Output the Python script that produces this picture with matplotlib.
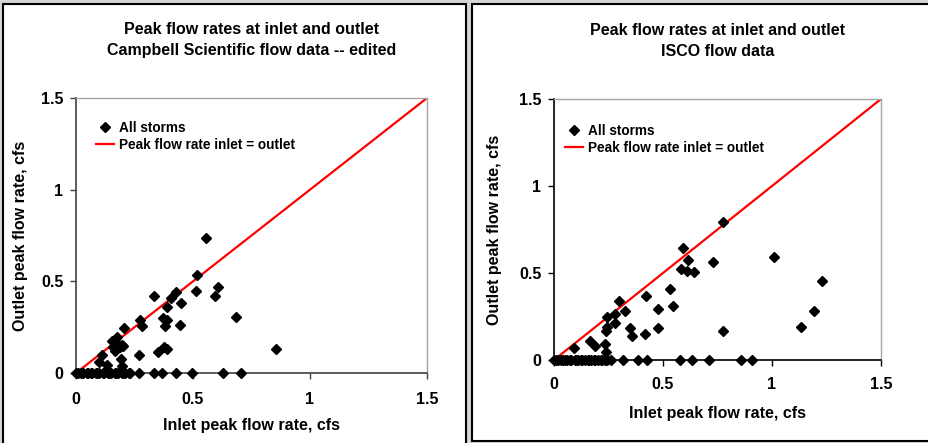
import matplotlib
matplotlib.use('Agg')
import matplotlib.pyplot as plt
from matplotlib.patches import Rectangle

plt.rcParams['font.family'] = ['Liberation Sans', 'DejaVu Sans']
plt.rcParams['font.weight'] = 'bold'

W, H = 929, 443

# Campbell Scientific (edited) peak flows, cfs
cs_inlet = [0.556, 0.517, 0.511, 0.607, 0.595, 0.685, 0.855, 0.335, 0.426, 0.405,
            0.447, 0.389, 0.39, 0.382, 0.444, 0.275, 0.281, 0.204, 0.377, 0.387,
            0.349, 0.268, 0.175, 0.152, 0.18, 0.195, 0.2, 0.19, 0.16, 0.165,
            0.11, 0.10, 0.131, 0.192, 0.198, 0.37,
            0.0, 0.01, 0.02, 0.03, 0.045, 0.05, 0.065, 0.07, 0.085, 0.09, 0.10,
            0.115, 0.12, 0.135, 0.14, 0.15, 0.165, 0.17, 0.18, 0.195, 0.20,
            0.21, 0.225, 0.23, 0.27, 0.335, 0.369, 0.429, 0.497, 0.63, 0.704]
cs_outlet = [0.735, 0.535, 0.447, 0.469, 0.42, 0.304, 0.133, 0.42, 0.44, 0.41,
             0.38, 0.36, 0.29, 0.256, 0.26, 0.287, 0.256, 0.247, 0.144, 0.133,
             0.115, 0.10, 0.198, 0.173, 0.16, 0.155, 0.15, 0.14, 0.14, 0.12,
             0.10, 0.06, 0.045, 0.078, 0.036, 0.30,
             0, 0, 0, 0, 0, 0, 0, 0, 0, 0, 0,
             0, 0, 0, 0, 0, 0, 0, 0, 0, 0,
             0, 0, 0, 0, 0, 0, 0, 0, 0, 0]

# ISCO peak flows, cfs
isco_inlet = [0.777, 0.593, 0.616, 0.583, 0.609, 0.644, 0.728, 1.011, 1.228, 1.191,
              1.132, 0.775, 0.532, 0.547, 0.478, 0.42, 0.478, 0.417, 0.349, 0.356,
              0.298, 0.327, 0.28, 0.243, 0.278, 0.243, 0.24, 0.232, 0.237, 0.165,
              0.188, 0.09,
              0.0, 0.01, 0.02, 0.03, 0.04, 0.05, 0.06, 0.075, 0.08, 0.095, 0.10,
              0.11, 0.125, 0.13, 0.14, 0.155, 0.16, 0.17, 0.185, 0.19, 0.20,
              0.215, 0.22, 0.235, 0.245, 0.26, 0.318, 0.385, 0.428, 0.578, 0.635,
              0.712, 0.858, 0.908]
isco_outlet = [0.795, 0.642, 0.573, 0.525, 0.511, 0.504, 0.561, 0.594, 0.456, 0.282,
               0.19, 0.167, 0.41, 0.312, 0.293, 0.37, 0.182, 0.148, 0.186, 0.138,
               0.341, 0.28, 0.266, 0.247, 0.215, 0.192, 0.167, 0.092, 0.048, 0.109,
               0.08, 0.071,
               0, 0, 0, 0, 0, 0, 0, 0, 0, 0, 0,
               0, 0, 0, 0, 0, 0, 0, 0, 0, 0,
               0, 0, 0, 0, 0, 0, 0, 0, 0, 0,
               0, 0, 0]

equal_line = [0, 1.5]
ticks = [0, 0.5, 1, 1.5]
tick_labels = ['0', '0.5', '1', '1.5']

titles = ['Peak flow rates at inlet and outlet\nCampbell Scientific flow data -- edited',
          'Peak flow rates at inlet and outlet\nISCO flow data']

fig = plt.figure(figsize=(W / 100, H / 100), dpi=100, facecolor='#d6d6d6')


def fx(x):
    return x / W


def fy(y):
    return 1 - y / H


# panel frames
for x0, x1, y0, y1 in [(3, 466, 4, 460), (472, 940, 4, 441)]:
    fig.patches.append(Rectangle((fx(x0), fy(y1)), fx(x1 - x0), (y1 - y0) / H,
                                 transform=fig.transFigure, facecolor='white',
                                 edgecolor='black', linewidth=1.5, zorder=-5))

# axes boxes in pixels: left, right, top, bottom
boxes = [(76, 427, 98, 373), (554, 881, 99, 360)]
spine_cols = ['#404040', 'black']
leg_anchor = [(0.057, 0.918), (0.034, 0.906)]
xlab_y = [-0.165, -0.175]
ylab_x = [-0.137, -0.158]
xpad = [10, 8.5]
title_pad = [31, 31]
data = [(cs_inlet, cs_outlet), (isco_inlet, isco_outlet)]

for i in range(2):
    l, r, t, b = boxes[i]
    ax = fig.add_axes([fx(l), fy(b), fx(r - l), (b - t) / H])
    ax.set_facecolor('white')
    xin, yout = data[i]
    ax.plot(xin, yout, linestyle='none', marker='D', markersize=5.3, color='black',
            label='All storms', clip_on=False, zorder=3)
    ax.plot(equal_line, equal_line, color='red', linewidth=1.6,
            label='Peak flow rate inlet = outlet', zorder=2)
    ax.set_xlim(0, 1.5)
    ax.set_ylim(0, 1.5)
    ax.set_xticks(ticks)
    ax.set_xticklabels(tick_labels)
    ax.set_yticks(ticks)
    ax.set_yticklabels(tick_labels)
    ax.tick_params(direction='out', length=4, width=1, labelsize=11.5,
                   colors=spine_cols[i])
    ax.tick_params(axis='x', pad=xpad[i])
    ax.tick_params(axis='y', pad=5)
    for lab in ax.get_xticklabels() + ax.get_yticklabels():
        lab.set_fontweight('bold')
        lab.set_color('black')
    for s in ['left', 'bottom']:
        ax.spines[s].set_color(spine_cols[i])
        ax.spines[s].set_linewidth(1.2)
    for s in ['top', 'right']:
        ax.spines[s].set_color('#a6a6a6')
        ax.spines[s].set_linewidth(1.0)
    ax.set_xlabel('Inlet peak flow rate, cfs', fontsize=11.5, fontweight='bold')
    ax.set_ylabel('Outlet peak flow rate, cfs', fontsize=11.5, fontweight='bold')
    ax.xaxis.set_label_coords(0.5, xlab_y[i])
    ax.yaxis.set_label_coords(ylab_x[i], 0.5)
    ax.set_title(titles[i], fontsize=11.5, fontweight='bold', pad=title_pad[i],
                 linespacing=1.5)
    leg = ax.legend(loc='upper left', bbox_to_anchor=leg_anchor[i], frameon=False,
                    fontsize=9.8, handlelength=1.3, handletextpad=0.4,
                    labelspacing=0.25, borderpad=0, borderaxespad=0)
    for txt in leg.get_texts():
        txt.set_fontweight('bold')

fig.savefig('out.png', dpi=100, facecolor=fig.get_facecolor())
